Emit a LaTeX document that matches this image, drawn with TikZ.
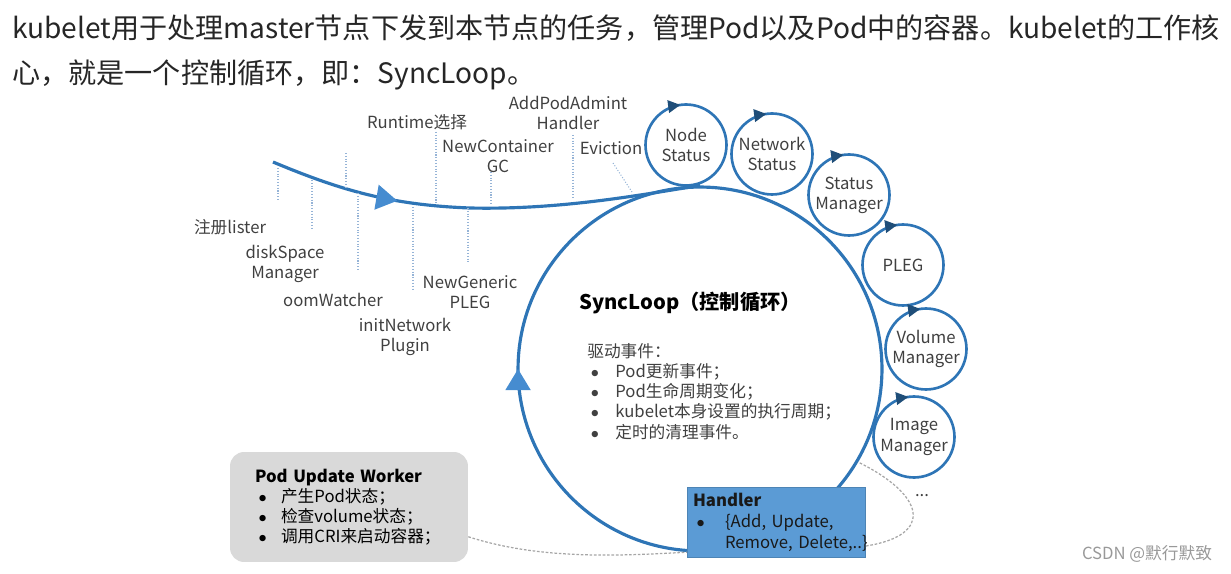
\documentclass[tikz,border=0pt]{standalone}
\usepackage{fontspec}
\setmainfont{Noto Sans CJK SC}
\usetikzlibrary{arrows.meta,decorations.markings,positioning}

\definecolor{loopblue}{RGB}{46,117,182}
\definecolor{tipblue}{RGB}{31,78,121}
\definecolor{triblue}{RGB}{70,140,208}
\definecolor{handlerblue}{RGB}{91,155,213}
\definecolor{boxgray}{RGB}{217,217,217}
\definecolor{labelgray}{RGB}{64,64,64}
\definecolor{tickblue}{RGB}{150,180,215}

\newcommand{\bul}[1][0.56cm]{\makebox[#1][l]{\hspace{2pt}$\bullet$}}

\begin{document}
\begin{tikzpicture}[%
    x=0.02cm, y=-0.02cm,
    every node/.style={inner sep=0pt},
    small/.style={font=\fontsize{9.5}{11.5}\selectfont},
    lbl/.style={small, text=labelgray, align=center},
    header/.style={font=\fontsize{16}{19}\selectfont, text=black!85, anchor=west},
    tick/.style={densely dotted, draw=tickblue, line width=0.6pt},
    loop/.style={circle, draw=loopblue, line width=1.8pt, minimum size=7.28cm,
        postaction={decorate, decoration={markings,
            mark=at position 0.5 with {\arrowreversed{Triangle[length=12pt,width=14pt,color=triblue]}}}}},
    flow/.style={draw=loopblue, line width=1.8pt,
        postaction={decorate, decoration={markings,
            mark=at position 0.30 with {\arrow{Triangle[length=12pt,width=14pt,color=triblue]}}}}},
    minicirc/.style={circle, draw=loopblue, line width=1.5pt, fill=white, minimum size=1.62cm,
        lbl,
        postaction={decorate, decoration={markings,
            mark=at position 0.272 with {\arrowreversed{Triangle[length=7pt,width=7pt,color=tipblue]}}}}},
    workerbox/.style={rectangle, rounded corners=8pt, fill=boxgray, minimum width=4.76cm,
        minimum height=2.2cm, inner xsep=0.5cm, text width=3.76cm, align=left, small},
    handlerbox/.style={rectangle, fill=handlerblue, draw=handlerblue!85!black, thin,
        minimum width=3.56cm, minimum height=1.4cm, inner xsep=0.12cm, text width=3.32cm,
        align=left, small, text=black!90},
    dotline/.style={draw=gray!70, line width=0.7pt, dash pattern=on 1.5pt off 1pt}]

    \useasboundingbox (0,0) rectangle (1231,574);

    % intro text
    \node[header] (intro_1) at (12,28) {kubelet用于处理master节点下发到本节点的任务，管理Pod以及Pod中的容器。kubelet的工作核};
    \node[header] (intro_2) at (12,75) {心，就是一个控制循环，即：SyncLoop。};

    % sync loop
    \node[loop] (syncloop) at (700,369) {};
    \coordinate (flow_start) at (273,162);
    \draw[flow] (flow_start) .. controls (340,190) and (390,205) .. (470,208)
        .. controls (560,210) and (640,195) .. (syncloop.north);

    % ticks on the flow
    \coordinate (lister_a) at (278,168);   \coordinate (lister_b) at (278,200);
    \coordinate (disk_a) at (312,180);     \coordinate (disk_b) at (312,230);
    \coordinate (spare_a) at (346,153);    \coordinate (spare_b) at (346,187);
    \coordinate (oom_a) at (358,193);      \coordinate (oom_b) at (358,270);
    \coordinate (initnet_a) at (413,207);  \coordinate (initnet_b) at (413,290);
    \coordinate (runtime_a) at (436,132);  \coordinate (runtime_b) at (436,203);
    \coordinate (pleggen_a) at (468,208);  \coordinate (pleggen_b) at (468,263);
    \coordinate (gc_a) at (491,172);       \coordinate (gc_b) at (491,203);
    \coordinate (admit_a) at (573,135);    \coordinate (admit_b) at (573,198);
    \coordinate (evict_a) at (613,163);    \coordinate (evict_b) at (632,192);
    \path[tick]
              (lister_a) edge (lister_b)
              (disk_a) edge (disk_b)
              (spare_a) edge (spare_b)
              (oom_a) edge (oom_b)
              (initnet_a) edge (initnet_b)
              (runtime_a) edge (runtime_b)
              (pleggen_a) edge (pleggen_b)
              (gc_a) edge (gc_b)
              (admit_a) edge (admit_b)
              (evict_a) edge (evict_b);

    \node[lbl] (lister) at (230,227) {注册lister};
    \node[lbl] (disk) at (285,264) {diskSpace\\Manager};
    \node[lbl] (oom) at (333,300) {oomWatcher};
    \node[lbl] (initnet) at (405,337) {initNetwork\\Plugin};
    \node[lbl] (pleggen) at (470,292) {NewGeneric\\PLEG};
    \node[lbl] (runtime) at (417,122) {Runtime选择};
    \node[lbl] (gc) at (498,156) {NewContainer\\GC};
    \node[lbl] (admit) at (568,113) {AddPodAdmint\\Handler};
    \node[lbl] (evict) at (611,148) {Eviction};

    % managers around the loop
    \node[minicirc] (nodestat) at (686,145) {Node\\Status};
    \node[minicirc] (netstat) at (772,154) {Network\\Status};
    \node[minicirc] (statman) at (849,195) {Status\\Manager};
    \node[minicirc] (pleg) at (903,265) {PLEG};
    \node[minicirc] (volman) at (926,349) {Volume\\Manager};
    \node[minicirc] (imgman) at (914,437) {Image\\Manager};
    \node[lbl] (more) at (922,496) {...};

    % inside the loop
    \node[font=\bfseries\fontsize{11.5}{13}\selectfont] (title) at (690,303) {SyncLoop（控制循环）};
    \node[small, text=labelgray, align=left, anchor=north west] (events) at (587,343)
        {驱动事件：\\
         \bul Pod更新事件；\\
         \bul Pod生命周期变化；\\
         \bul kubelet本身设置的执行周期；\\
         \bul 定时的清理事件。};

    % worker and handler
    \node[workerbox] (worker) at (349,507)
        {{\bfseries Pod Update Worker}\\
         \bul[0.52cm]产生Pod状态；\\
         \bul[0.52cm]检查volume状态；\\
         \bul[0.52cm]调用CRI来启动容器；};
    \coordinate (dots_end) at (858,462);
    \draw[dotline] (worker.-14) .. controls (540,560) and (620,556) .. (690,552);
    \draw[dotline] (866,546) .. controls (935,535) and (925,495) .. (dots_end);
    \node[handlerbox] (handler) at (776,522)
        {{\bfseries Handler}\\[1pt]
         \mbox{\bul[0.64cm]\{Add, Update,}\\
         \mbox{\hspace*{0.64cm}Remove, Delete,..\}}};

    \node[small, text=gray!80] (watermark) at (1147,554) {CSDN @默行默致};
\end{tikzpicture}
\end{document}
